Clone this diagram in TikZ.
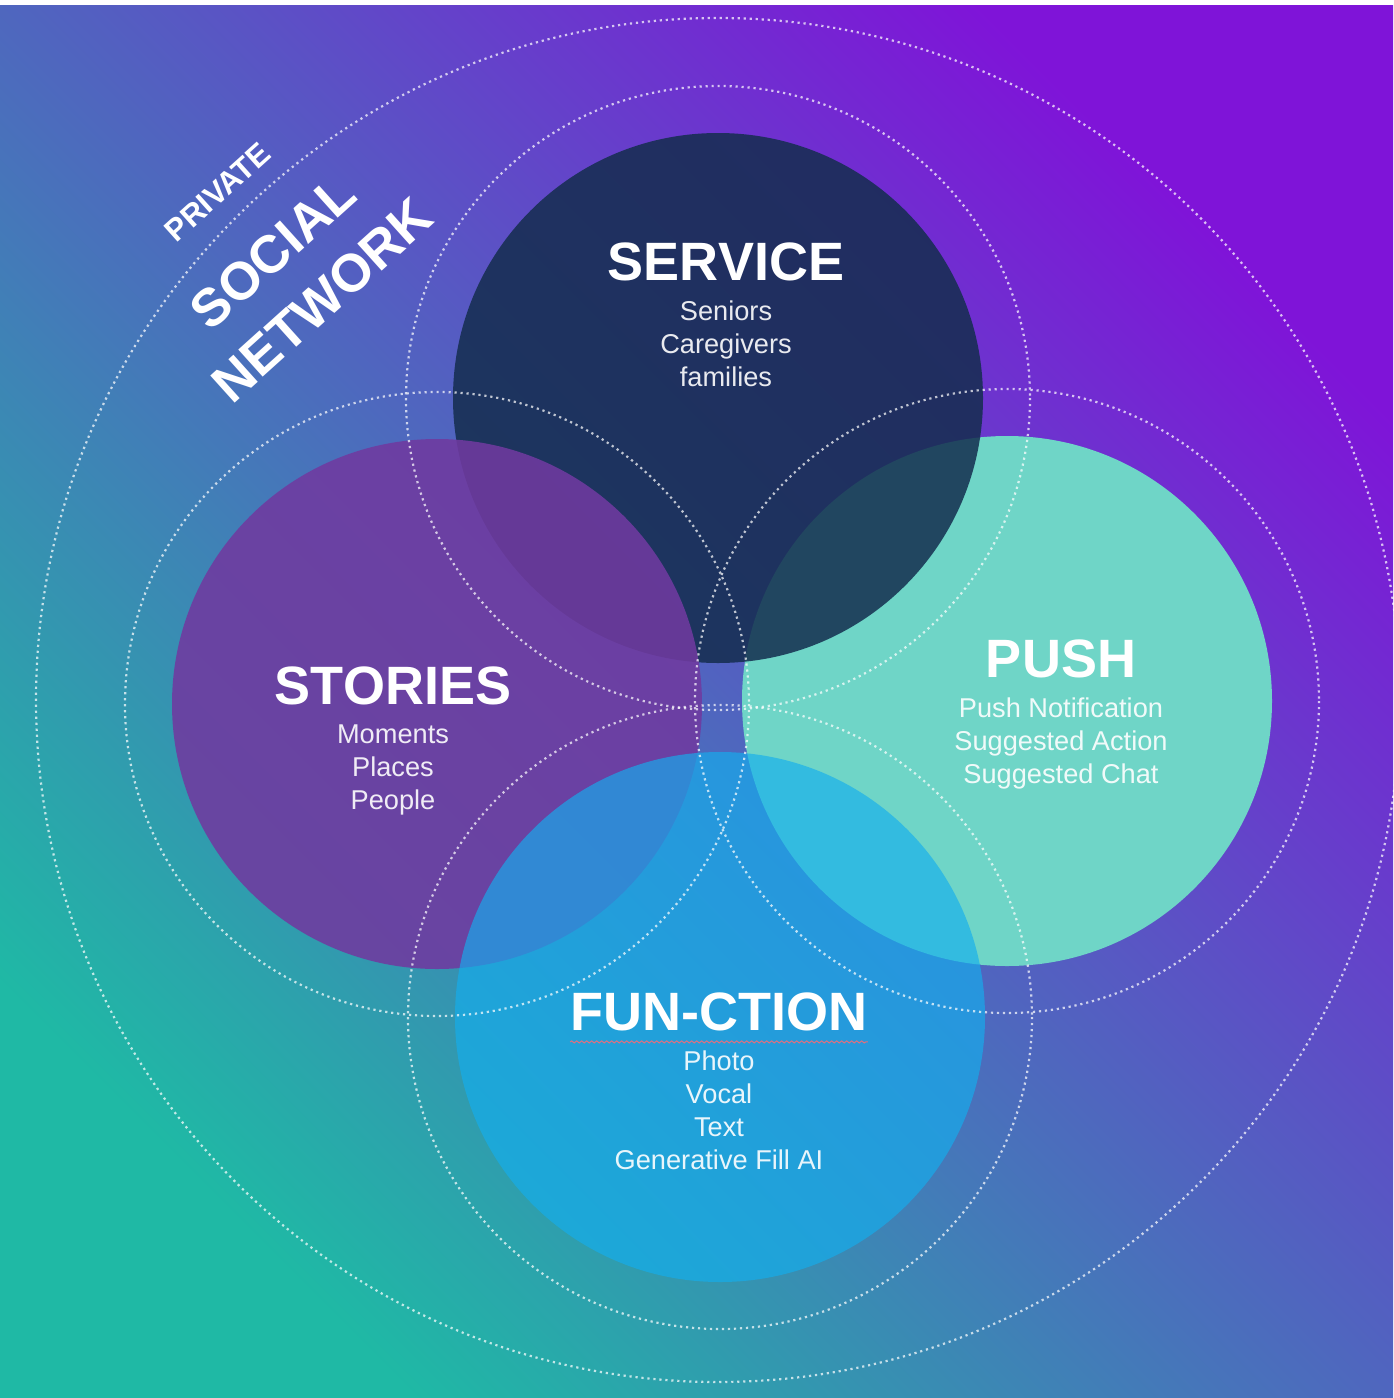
\documentclass[tikz,border=0pt]{standalone}
\usepackage{fontspec}
\setmainfont{Liberation Sans}
\usetikzlibrary{positioning,decorations.pathmorphing}
\definecolor{bgteal}{RGB}{31,185,165}
\definecolor{bgpurple}{RGB}{127,20,216}
\definecolor{servicenavy}{RGB}{20,45,78}
\definecolor{storiespurple}{RGB}{112,58,160}
\definecolor{pushteal}{RGB}{111,213,199}
\definecolor{functionblue}{RGB}{20,174,238}
\definecolor{squigglered}{RGB}{222,112,128}
\begin{document}
\begin{tikzpicture}[x=0.5pt,y=-0.5pt,
    bubble/.style={circle,inner sep=0pt,minimum size=265pt},
    ring/.style={white,opacity=0.72,line width=1.1pt,dash pattern=on 1.1pt off 1.9pt},
    heading/.style={text=white,inner sep=0pt,font=\fontsize{27}{30}\selectfont\bfseries},
    items/.style={text=white,text opacity=0.9,inner sep=0pt,align=center,font=\fontsize{13.6}{16.5}\selectfont},
    tag/.style={text=white,inner sep=0pt,rotate=42,font=\fontsize{26.5}{30}\selectfont\bfseries},
    squiggle/.style={squigglered,line width=0.5pt,decorate,decoration={snake,amplitude=0.5pt,segment length=2.5pt}}]
  \useasboundingbox (0,0) rectangle (1393,1398);
  \shade[top color=bgpurple,bottom color=bgteal,shading angle=-45] (0,5) rectangle (1393,1398);

  % the four bubbles, back to front
  \path (1007,701) node[bubble,fill=pushteal] (push) {};
  \path (718,398) node[bubble,fill=servicenavy,fill opacity=0.85] (service) {};
  \path (437,704) node[bubble,fill=storiespurple,fill opacity=0.88] (stories) {};
  \path (720,1017) node[bubble,fill=functionblue,fill opacity=0.66] (fun) {};

  % dotted rings
  \draw[ring] (718,700) circle (682);
  \foreach \b in {service,stories,push,fun}
    \draw[ring] (\b) circle (312);

  % labels
  \path (726,280) node[heading,anchor=base] (servicetitle) {SERVICE};
  \path node[items,below=9.5pt of servicetitle] (serviceitems) {Seniors\\Caregivers\\families};
  \path (393,704) node[heading,anchor=base] (storiestitle) {STORIES};
  \path node[items,below=9.5pt of storiestitle] (storiesitems) {Moments\\Places\\People};
  \path (1061,677) node[heading,anchor=base] (pushtitle) {PUSH};
  \path node[items,below=9.5pt of pushtitle] (pushitems) {Push Notification\\Suggested Action\\Suggested Chat};
  \path (719,1030) node[heading,anchor=base] (funtitle) {FUN-CTION};
  \path node[items,below=9.5pt of funtitle] (funitems) {Photo\\Vocal\\Text\\Generative Fill AI};
  \draw[squiggle] ([yshift=-5.5pt]funtitle.south west) -- ([yshift=-5.5pt]funtitle.south east);

  \path (218,192) node[tag,font=\fontsize{15.5}{18}\selectfont\bfseries] (private) {PRIVATE};
  \path (273,252) node[tag] (social) {SOCIAL};
  \path (322,300) node[tag] (network) {NETWORK};
\end{tikzpicture}
\end{document}
